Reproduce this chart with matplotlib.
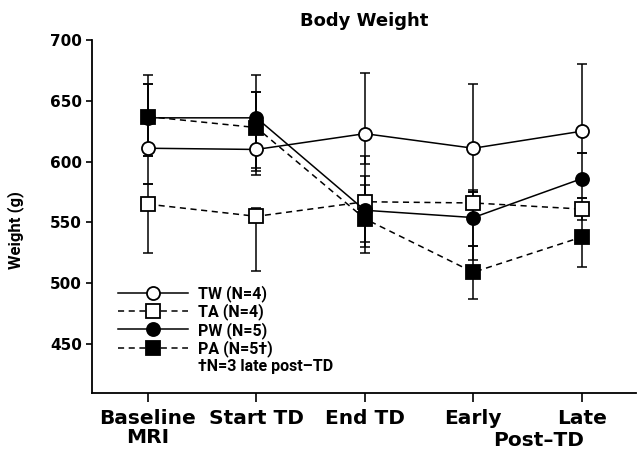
import matplotlib
matplotlib.use('Agg')
import matplotlib.pyplot as plt
import matplotlib.transforms as mtransforms

# ---- data ----
categories = ["Baseline\nMRI", "Start TD", "End TD", "Early", "Late"]
group_label = "Post\u2013TD"
yticks = [450, 500, 550, 600, 650, 700]

tw = [611, 610, 623, 611, 625]
tw_hi = [60, 61, 50, 53, 55]
tw_lo = [6, 15, 25, 36, 18]

ta = [565, 555, 567, 566, 561]
ta_hi = [17, 7, 38, 9, 9]
ta_lo = [40, 45, 37, 47, 9]

pw = [636, 636, 560, 554, 586]
pw_hi = [28, 21, 28, 23, 21]
pw_lo = [54, 44, 26, 23, 16]

pa = [637, 628, 553, 509, 538]
pa_hi = [27, 29, 28, 22, 25]
pa_lo = [32, 39, 28, 22, 25]

labels = ["TW (N=4)", "TA (N=4)", "PW (N=5)", "PA (N=5\u2020)"]
footnote = "\u2020N=3 late post\u2013TD"
title = "Body Weight"
ylabel = "Weight (g)"

# ---- figure ----
W, H = 643, 450
fig = plt.figure(figsize=(W / 100, H / 100), dpi=100)
ax_l, ax_r, ax_b, ax_t = 92, 636, 393.3, 40
ax = fig.add_axes([ax_l / W, 1 - ax_b / H, (ax_r - ax_l) / W, (ax_b - ax_t) / H])

x = list(range(len(categories)))
narrow = ['Roboto', 'DejaVu Sans']

dash = (0, (4, 3))
series = [
    (tw, tw_lo, tw_hi, '-', 'o', 'white', 5),
    (ta, ta_lo, ta_hi, dash, 's', 'white', 3),
    (pw, pw_lo, pw_hi, '-', 'o', 'black', 4),
    (pa, pa_lo, pa_hi, dash, 's', 'black', 4.5),
]
handles = []
for (vals, lo, hi, ls, mk, fc, z), lab in zip(series, labels):
    ax.errorbar(x, vals, yerr=[lo, hi], fmt='none', ecolor='black',
                elinewidth=1.1, capsize=3.6, capthick=1.1, zorder=2)
    ln, = ax.plot(x, vals, linestyle=ls, color='black', linewidth=1.1,
                  marker=mk, markersize=9.4, markerfacecolor=fc,
                  markeredgecolor='black', markeredgewidth=1.3,
                  zorder=z, label=lab)
    handles.append(ln)

ax.set_xlim(-0.516, 4.5)
ax.set_ylim(409.5, 700)
ax.set_yticks(yticks)
ax.set_xticks(x)
ax.set_xticklabels(categories, fontfamily='DejaVu Sans', fontweight='bold',
                   fontsize=14.5, linespacing=0.95, va='top')
for lab in ax.get_yticklabels():
    lab.set_fontfamily('DejaVu Sans')
    lab.set_fontweight('bold')
    lab.set_fontsize(11)

for s in ['top', 'right']:
    ax.spines[s].set_visible(False)
for s in ['left', 'bottom']:
    ax.spines[s].set_linewidth(1.3)
ax.tick_params(axis='y', direction='out', length=4.3, width=1.2, pad=3)
ax.tick_params(axis='x', direction='out', length=6.5, width=1.2, pad=5)

# group label under Early/Late
trans = mtransforms.blended_transform_factory(ax.transData, ax.transAxes)
ax.text(3.6, (ax_b - 441) / (ax_b - ax_t), group_label, transform=trans,
        ha='center', va='center', fontfamily='DejaVu Sans', fontweight='bold',
        fontsize=14.5)

# title
ax.text(0.5, 1 + (ax_t - 21) / (ax_b - ax_t), title, transform=ax.transAxes,
        ha='center', va='center', fontfamily='DejaVu Sans', fontweight='bold',
        fontsize=13)

# y label
ax.set_ylabel(ylabel, fontfamily=narrow, fontweight='bold', fontsize=12)
ax.yaxis.set_label_coords((24 - ax_l) / (ax_r - ax_l), (ax_b - 230) / (ax_b - ax_t))

# legend
leg = ax.legend(handles=handles, loc='upper left',
                bbox_to_anchor=((118 - ax_l) / (ax_r - ax_l), (ax_b - 285) / (ax_b - ax_t)),
                frameon=False, borderpad=0, borderaxespad=0,
                handlelength=4.4, handletextpad=0.62, labelspacing=0.09,
                prop={'family': narrow, 'weight': 'bold', 'size': 11.5})
ax.text((198 - ax_l) / (ax_r - ax_l), (ax_b - 367) / (ax_b - ax_t), footnote,
        transform=ax.transAxes, ha='left', va='center',
        fontfamily=narrow, fontweight='bold', fontsize=11.5)

fig.savefig('out.png', dpi=100)
